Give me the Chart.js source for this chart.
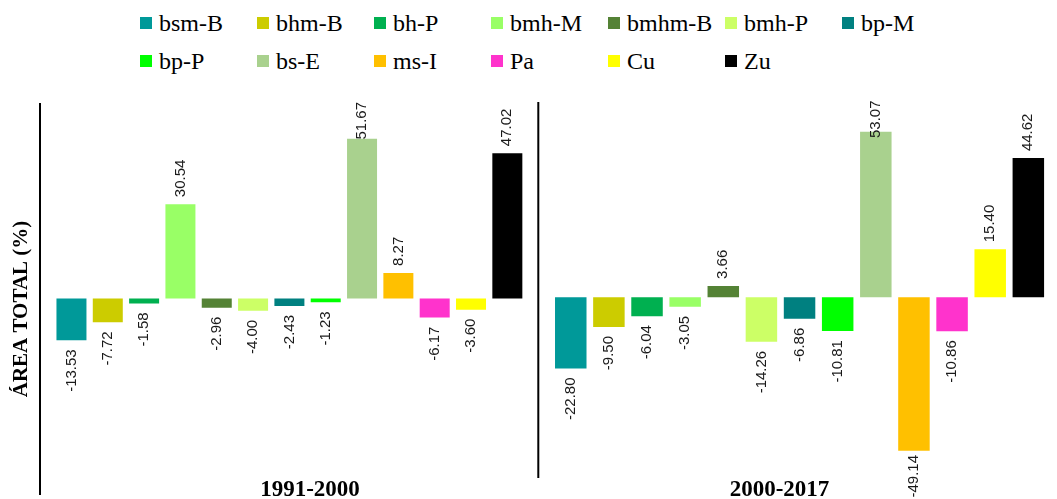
<!DOCTYPE html>
<html lang="es">
<head>
<meta charset="utf-8">
<title>Cambio en el área total por clase</title>
<script src="https://cdn.jsdelivr.net/npm/chart.js@4.4.1/dist/chart.umd.min.js"></script>
<style>
  html, body { margin: 0; padding: 0; background: #ffffff; }
  #wrap { position: relative; width: 1057px; height: 499px; overflow: hidden; }
  #wrap canvas { position: absolute; left: 0; top: 0; }
  #legend { position: absolute; left: 0; top: 0; width: 1057px; height: 90px; }
  .item { position: absolute; display: flex; align-items: center; height: 24px;
          font-family: "Liberation Serif", "Times New Roman", serif; font-size: 24px;
          line-height: 24px; color: #000; white-space: nowrap; }
  .swatch { width: 12px; height: 12px; margin-right: 7px; flex: none; }
</style>
</head>
<body>
<div id="wrap">
  <div id="legend"></div>
  <canvas id="p1" width="1057" height="499"></canvas>
  <canvas id="p2" width="1057" height="499"></canvas>
</div>
<script>
// Land-cover classes, in legend / bar order
const classes = ['bsm-B', 'bhm-B', 'bh-P', 'bmh-M', 'bmhm-B', 'bmh-P', 'bp-M',
                 'bp-P', 'bs-E', 'ms-I', 'Pa', 'Cu', 'Zu'];

// Fill colour of each class
const classColors = ['#009999', '#CCCC00', '#00B050', '#99FF66', '#548235', '#CCFF66', '#008080',
                     '#00FF00', '#A9D18E', '#FFC000', '#FF33CC', '#FFFF00', '#000000'];

// Change in total area (%) per class for each period
const periods = ['1991-2000', '2000-2017'];
const change1991_2000 = [-13.53, -7.72, -1.58, 30.54, -2.96, -4.00, -2.43,
                         -1.23, 51.67, 8.27, -6.17, -3.60, 47.02];
const change2000_2017 = [-22.80, -9.50, -6.04, -3.05, 3.66, -14.26, -6.86,
                         -10.81, 53.07, -49.14, -10.86, 15.40, 44.62];

const yAxisTitle = 'ÁREA TOTAL (%)';

// ---- legend (two rows on a fixed column grid) ----
const legendEl = document.getElementById('legend');
classes.forEach((name, i) => {
  const row = i < 7 ? 0 : 1;
  const col = i < 7 ? i : i - 7;
  const item = document.createElement('div');
  item.className = 'item';
  item.style.left = (140 + col * 117) + 'px';
  item.style.top = (row === 0 ? 10.5 : 49) + 'px';
  const sw = document.createElement('span');
  sw.className = 'swatch';
  sw.style.background = classColors[i];
  const tx = document.createElement('span');
  tx.textContent = name;
  item.appendChild(sw);
  item.appendChild(tx);
  legendEl.appendChild(item);
});

// ---- per-panel decoration: value labels, divider rule, period title ----
const panelDecor = {
  id: 'panelDecor',
  afterDatasetsDraw(chart, args, opts) {
    const ctx = chart.ctx;
    const meta = chart.getDatasetMeta(0);
    const values = chart.data.datasets[0].data;
    ctx.save();

    // rotated value labels at the end of each bar
    ctx.font = '15px "Liberation Sans", Arial, sans-serif';
    ctx.fillStyle = '#1a1a1a';
    ctx.textBaseline = 'middle';
    meta.data.forEach((bar, i) => {
      const v = values[i];
      const text = v.toFixed(2);
      const w = ctx.measureText(text).width;
      ctx.save();
      if (v >= 0) {
        const y = Math.max(bar.y - 7, opts.labelTop + w);
        ctx.translate(bar.x, y);
        ctx.rotate(-Math.PI / 2);
        ctx.textAlign = 'left';
      } else {
        const y = Math.min(bar.y + 9, opts.labelBottom - w);
        ctx.translate(bar.x, y);
        ctx.rotate(-Math.PI / 2);
        ctx.textAlign = 'right';
      }
      ctx.fillText(text, 0, 0);
      ctx.restore();
    });

    // vertical rule on the left of the panel
    ctx.strokeStyle = '#000000';
    ctx.lineWidth = 2;
    ctx.beginPath();
    ctx.moveTo(opts.rule.x, opts.rule.top);
    ctx.lineTo(opts.rule.x, opts.rule.bottom);
    ctx.stroke();

    // period title under the panel
    ctx.font = 'bold 23px "Liberation Serif", "Times New Roman", serif';
    ctx.fillStyle = '#000000';
    ctx.textAlign = 'center';
    ctx.textBaseline = 'alphabetic';
    ctx.fillText(opts.title.text, opts.title.x, opts.title.y);

    // vertical axis title
    if (opts.yTitle) {
      ctx.save();
      ctx.font = 'bold 21px "Liberation Serif", "Times New Roman", serif';
      ctx.translate(opts.yTitle.x, opts.yTitle.y);
      ctx.rotate(-Math.PI / 2);
      ctx.textAlign = 'center';
      ctx.textBaseline = 'middle';
      ctx.fillText(opts.yTitle.text, 0, 0);
      ctx.restore();
    }
    ctx.restore();
  }
};

function makePanel(canvasId, values, pad, yMin, yMax, decor) {
  return new Chart(document.getElementById(canvasId), {
    type: 'bar',
    data: {
      labels: classes,
      datasets: [{
        data: values,
        backgroundColor: classColors,
        borderWidth: 0,
        barPercentage: 0.826,
        categoryPercentage: 1.0
      }]
    },
    options: {
      responsive: false,
      devicePixelRatio: 1,
      animation: false,
      events: [],
      layout: { padding: pad },
      scales: {
        x: { display: false },
        y: { display: false, min: yMin, max: yMax }
      },
      plugins: {
        legend: { display: false },
        tooltip: { enabled: false },
        panelDecor: decor
      }
    },
    plugins: [panelDecor]
  });
}

makePanel('p1', change1991_2000,
  { left: 53.3, right: 1057 - 525.5, top: 103, bottom: 21 },
  -58.09, 63.27,
  {
    labelTop: 102, labelBottom: 497.5,
    rule: { x: 40, top: 103, bottom: 495 },
    title: { text: periods[0], x: 310, y: 496 },
    yTitle: { text: yAxisTitle, x: 21.5, y: 309 }
  });

makePanel('p2', change2000_2017,
  { left: 551.7, right: 1057 - 1047.4, top: 103, bottom: 21 },
  -57.9, 62.28,
  {
    labelTop: 100.5, labelBottom: 497.5,
    rule: { x: 538.3, top: 102, bottom: 478 },
    title: { text: periods[1], x: 779.5, y: 496 }
  });
</script>
</body>
</html>
